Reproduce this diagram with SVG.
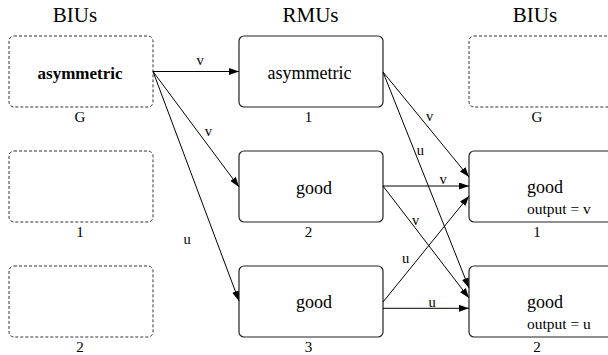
<svg xmlns="http://www.w3.org/2000/svg" width="608" height="355" viewBox="0 0 608 355" font-family="'Liberation Serif', 'DejaVu Serif', serif">
  <style>
    text { font-family: "Liberation Serif", "DejaVu Serif", serif; fill: #000; }
    .hdr { font-size: 21px; text-anchor: middle; }
    .idx { font-size: 15px; text-anchor: middle; }
    .big { font-size: 18px; text-anchor: middle; }
    .bold { font-size: 17px; font-weight: bold; text-anchor: middle; }
    .lbl { font-size: 14.5px; text-anchor: middle; }
    .sub { font-size: 15.5px; }
    .box { fill: #fff; stroke: #222; stroke-width: 1.2; }
    .ghost { fill: #fff; stroke: #333; stroke-width: 1; stroke-dasharray: 3 2; }
    .edge { fill: none; stroke: #000; stroke-width: 1; marker-end: url(#arrow); }
  </style>
  <defs>
    <marker id="arrow" markerUnits="userSpaceOnUse" markerWidth="10" markerHeight="7" refX="10" refY="3.5" orient="auto">
      <path d="M0,0 L10,3.5 L0,7 z" fill="#000"/>
    </marker>
  </defs>
  <rect width="608" height="355" fill="#fff"/>

  <!-- column headings -->
  <text class="hdr" x="75" y="21.5">BIUs</text>
  <text class="hdr" x="310.5" y="21.5">RMUs</text>
  <text class="hdr" x="535" y="21.5">BIUs</text>

  <!-- left column: input BIUs -->
  <g id="biu-in-G">
    <rect class="ghost" x="9" y="36" width="144" height="71" rx="5"/>
    <text class="bold" x="80" y="79">asymmetric</text>
    <text class="idx" x="80" y="121.5">G</text>
  </g>
  <g id="biu-in-1">
    <rect class="ghost" x="9" y="151" width="144" height="71" rx="5"/>
    <text class="idx" x="80" y="237">1</text>
  </g>
  <g id="biu-in-2">
    <rect class="ghost" x="9" y="266" width="144" height="71" rx="5"/>
    <text class="idx" x="80" y="352">2</text>
  </g>

  <!-- middle column: RMUs -->
  <g id="rmu-1">
    <rect class="box" x="239" y="36" width="144" height="71" rx="5"/>
    <text class="big" x="309.5" y="79.3">asymmetric</text>
    <text class="idx" x="308.5" y="121.5">1</text>
  </g>
  <g id="rmu-2">
    <rect class="box" x="239" y="151" width="144" height="71" rx="5"/>
    <text class="big" x="314" y="193.8">good</text>
    <text class="idx" x="308.5" y="237">2</text>
  </g>
  <g id="rmu-3">
    <rect class="box" x="239" y="266" width="144" height="71" rx="5"/>
    <text class="big" x="314" y="308.3">good</text>
    <text class="idx" x="308.5" y="352">3</text>
  </g>

  <!-- right column: output BIUs -->
  <g id="biu-out-G">
    <rect class="ghost" x="469" y="36" width="144" height="71" rx="5"/>
    <text class="idx" x="537" y="121.5">G</text>
  </g>
  <g id="biu-out-1">
    <rect class="box" x="469" y="151" width="144" height="71" rx="5"/>
    <text class="big" x="527" y="193.3" style="text-anchor:start">good</text>
    <text class="sub" x="527" y="214">output = v</text>
    <text class="idx" x="537" y="237">1</text>
  </g>
  <g id="biu-out-2">
    <rect class="box" x="469" y="266" width="144" height="71" rx="5"/>
    <text class="big" x="527" y="308.3" style="text-anchor:start">good</text>
    <text class="sub" x="527" y="329.3">output = u</text>
    <text class="idx" x="537" y="352">2</text>
  </g>

  <!-- connectors -->
  <g id="connectors">
    <line class="edge" x1="153" y1="71.5" x2="239" y2="71.5"/>
    <line class="edge" x1="153" y1="71.5" x2="239" y2="187"/>
    <line class="edge" x1="153" y1="71.5" x2="239" y2="301"/>

    <line class="edge" x1="383" y1="72" x2="469" y2="177"/>
    <line class="edge" x1="383" y1="72" x2="469" y2="288"/>

    <line class="edge" x1="383" y1="186" x2="469" y2="186"/>
    <line class="edge" x1="383" y1="186" x2="469" y2="298"/>

    <line class="edge" x1="383" y1="302" x2="469" y2="196"/>
    <line class="edge" x1="383" y1="308.3" x2="469" y2="308.3"/>

    <text class="lbl" x="200" y="64.5">v</text>
    <text class="lbl" x="208.3" y="136">v</text>
    <text class="lbl" x="187" y="244">u</text>
    <text class="lbl" x="429.7" y="120.7">v</text>
    <text class="lbl" x="420.3" y="155">u</text>
    <text class="lbl" x="443" y="184">v</text>
    <text class="lbl" x="415.5" y="224.5">v</text>
    <text class="lbl" x="405.5" y="263">u</text>
    <text class="lbl" x="432" y="306.5">u</text>
  </g>
</svg>
